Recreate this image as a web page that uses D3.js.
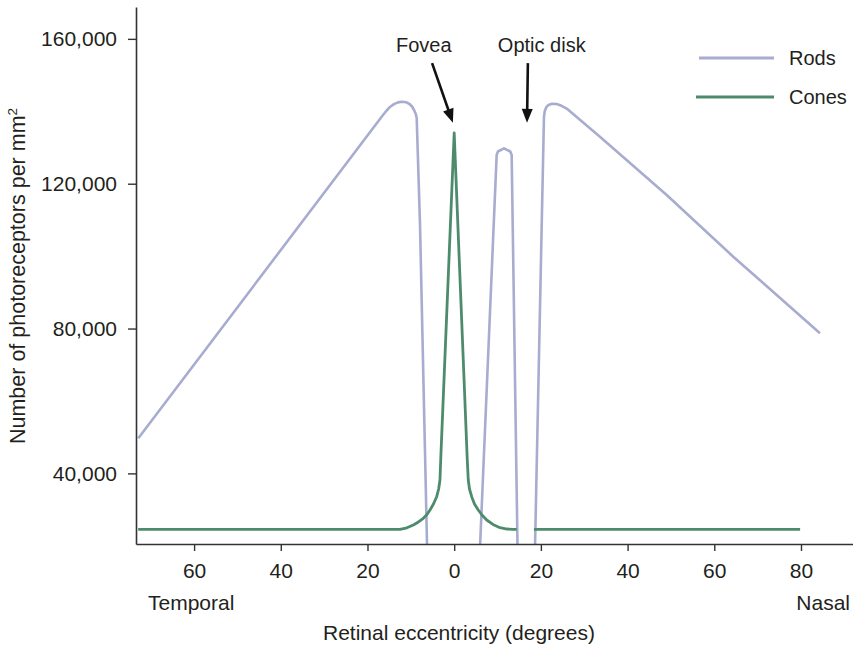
<!DOCTYPE html>
<html>
<head>
<meta charset="utf-8">
<script src="https://cdn.jsdelivr.net/npm/d3@7"></script>
<style>
  html, body { margin: 0; padding: 0; background: #fff; }
  svg text { font-family: "Liberation Sans", Arial, Helvetica, sans-serif; fill: #231f20; }
</style>
</head>
<body>
<svg id="chart" width="853" height="646"></svg>
<script>
// ---- data (eccentricity in degrees: negative = temporal, positive = nasal) ----
const rodsEcc = [-72.87, -16.42, -15.57, -14.81, -13.89, -12.96, -12.04, -11.12, -10.31, -9.73, -9.27, -8.86, -8.65, -7.89, -6.74, -6.27, null,
                 5.99, 9.80, 10.10, 11.49, 12.94, 13.26, 14.60, null,
                 18.66, 20.71, 20.90, 21.22, 21.75, 22.56, 23.64, 24.75, 25.95, 33.62, 49.02, 64.38, 84.38];
const rodsVal = [49690, 138980, 140220, 141190, 141960, 142460, 142650, 142510, 142010, 141320, 140360, 139250, 138150, 109070, 46460, 20500, null,
                 20500, 127930, 128900, 129780, 128900, 127930, 20500, null,
                 20500, 138420, 140080, 141050, 141740, 142100, 142010, 141520, 140740, 132980, 116880, 99840, 78690];
const conesEcc = [-72.9, -12.5, -10.9, -9.43, -8.24, -7.13, -6.27, -5.58, -4.78, -4.04, -3.58, -3.28, -3.11, 0,
                  3.02, 3.25, 3.53, 4.04, 4.68, 5.56, 6.41, 7.5, 8.95, 10.57, 12.18, 13.63, 14.42, null,
                  18.4, 79.8];
const conesVal = [24560, 24560, 24970, 25750, 26580, 27600, 28650, 29890, 31550, 33560, 35690, 38180, 43700, 134000,
                  43700, 38180, 35690, 33560, 31550, 29890, 28510, 27130, 25890, 25000, 24640, 24560, 24560, null,
                  24560, 24560];
const xTicks = [-60, -40, -20, 0, 20, 40, 60, 80];
const yTicks = [40000, 80000, 120000, 160000];
const seriesNames = ["Rods", "Cones"];
const seriesColors = ["#a8accf", "#4e8b6c"];
const annotations = [
  {label: "Fovea", tx: -7.0, tipX: -0.3, tailX: -5.1},
  {label: "Optic disk", tx: 20.2, tipX: 16.8, tailX: 17.0}
];

// ---- layout ----
const svg = d3.select("#chart");
const mLeft = 136, mRight = 853, mTop = 7, mBottom = 544;
const x = d3.scaleLinear().domain([-73.4, 92]).range([mLeft, mRight]);
const y = d3.scaleLinear().domain([20500, 168800]).range([mBottom, mTop]);
const FS = 21;

const rods = rodsEcc.map((e, i) => ({x: e, y: rodsVal[i]}));
const cones = conesEcc.map((e, i) => ({x: e, y: conesVal[i]}));

const line = d3.line().defined(d => d.x !== null && d.y !== null)
  .x(d => x(d.x)).y(d => y(d.y)).curve(d3.curveLinear);

svg.append("path").datum(rods)
  .attr("d", line).attr("fill", "none")
  .attr("stroke", seriesColors[0]).attr("stroke-width", 2.6)
  .attr("stroke-linejoin", "round");
svg.append("path").datum(cones)
  .attr("d", line).attr("fill", "none")
  .attr("stroke", seriesColors[1]).attr("stroke-width", 2.8)
  .attr("stroke-linejoin", "round");

// ---- axes ----
const xAxis = d3.axisBottom(x).tickValues(xTicks).tickFormat(d => Math.abs(d))
  .tickSize(7).tickPadding(12).tickSizeOuter(0);
const gx = svg.append("g").attr("transform", `translate(0,${mBottom})`).call(xAxis);
const yAxis = d3.axisLeft(y).tickValues(yTicks).tickFormat(d3.format(","))
  .tickSize(8).tickPadding(11).tickSizeOuter(0);
const gy = svg.append("g").attr("transform", `translate(${mLeft},0)`).call(yAxis);
[gx, gy].forEach(g => {
  g.select(".domain").attr("stroke", "#333").attr("stroke-width", 1.6);
  g.selectAll(".tick line").attr("stroke", "#333").attr("stroke-width", 1.4);
  g.selectAll(".tick text").attr("font-size", FS)
    .attr("font-family", "'Liberation Sans', Arial, sans-serif").attr("fill", "#231f20");
});

// ---- axis titles ----
svg.append("text").attr("x", 148).attr("y", 610).attr("font-size", FS).text("Temporal");
svg.append("text").attr("x", 850).attr("y", 610).attr("font-size", FS)
  .attr("text-anchor", "end").text("Nasal");
svg.append("text").attr("x", 459).attr("y", 640).attr("font-size", FS)
  .attr("text-anchor", "middle").text("Retinal eccentricity (degrees)");
const yt = svg.append("text")
  .attr("transform", "translate(25,276) rotate(-90)")
  .attr("font-size", 21.5).attr("text-anchor", "middle");
yt.append("tspan").text("Number of photoreceptors per mm");
yt.append("tspan").attr("font-size", 13.5).attr("dy", -8).text("2");

// ---- legend ----
const legend = svg.append("g");
const legendY = [58, 97];
const legendX0 = [699, 696];
seriesNames.forEach((n, i) => {
  legend.append("line").attr("x1", legendX0[i]).attr("x2", 774)
    .attr("y1", legendY[i]).attr("y2", legendY[i])
    .attr("stroke", seriesColors[i]).attr("stroke-width", 2.8);
  legend.append("text").attr("x", 789).attr("y", legendY[i] + 7)
    .attr("font-size", FS - 1).text(n);
});

// ---- annotations ----
const tailV = 153300, tipV = 136800;
annotations.forEach(a => {
  svg.append("text").attr("x", x(a.tx)).attr("y", 52)
    .attr("text-anchor", "middle").attr("font-size", FS - 1).text(a.label);
  const x1 = x(a.tailX), y1 = y(tailV), x2 = x(a.tipX), y2 = y(tipV);
  const ang = Math.atan2(y2 - y1, x2 - x1);
  const hl = 14, hw = 5.5;
  const bx = x2 - hl * Math.cos(ang), by = y2 - hl * Math.sin(ang);
  svg.append("line").attr("x1", x1).attr("y1", y1)
    .attr("x2", bx + 2 * Math.cos(ang)).attr("y2", by + 2 * Math.sin(ang))
    .attr("stroke", "#111").attr("stroke-width", 2.6);
  const px = -Math.sin(ang), py = Math.cos(ang);
  svg.append("path")
    .attr("d", `M${x2},${y2}L${bx + hw * px},${by + hw * py}L${bx - hw * px},${by - hw * py}Z`)
    .attr("fill", "#111");
});
</script>
</body>
</html>
